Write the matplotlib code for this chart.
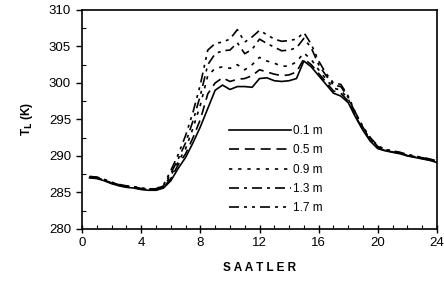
import matplotlib
matplotlib.use('Agg')
import matplotlib.pyplot as plt
from matplotlib.ticker import MultipleLocator

plt.rcParams['font.family'] = ['Liberation Sans', 'DejaVu Sans']

# saat (yarim saatlik)
saat = [0.5, 1.0, 1.5, 2.0, 2.5, 3.0, 3.5, 4.0, 4.5, 5.0, 5.5, 6.0,
        6.5, 7.0, 7.5, 8.0, 8.5, 9.0, 9.5, 10.0, 10.5, 11.0, 11.5, 12.0,
        12.5, 13.0, 13.5, 14.0, 14.5, 15.0, 15.5, 16.0, 16.5, 17.0, 17.5, 18.0,
        18.5, 19.0, 19.5, 20.0, 20.5, 21.0, 21.5, 22.0, 22.5, 23.0, 23.5, 24.0]

t_01 = [287.0, 286.9, 286.6, 286.2, 285.9, 285.7, 285.6, 285.4, 285.3, 285.3, 285.6, 286.6,
        288.3, 289.8, 291.8, 294.0, 296.5, 299.0, 299.7, 299.1, 299.5, 299.5, 299.4, 300.6,
        300.7, 300.3, 300.2, 300.3, 300.6, 303.0, 302.2, 301.0, 299.8, 298.6, 298.2, 297.3,
        295.3, 293.5, 292.0, 291.0, 290.7, 290.5, 290.3, 290.0, 289.8, 289.6, 289.4, 289.1]
t_05 = [287.05, 286.95, 286.65, 286.25, 285.95, 285.75, 285.65, 285.45, 285.35, 285.35, 285.7, 286.9,
        288.8, 290.3, 292.5, 295.0, 298.5, 300.0, 300.7, 300.2, 300.5, 300.6, 301.0, 301.8,
        301.5, 301.2, 301.0, 301.1, 301.5, 303.3, 302.5, 301.3, 300.1, 298.9, 298.6, 297.5,
        295.4, 293.6, 292.1, 291.1, 290.75, 290.55, 290.35, 290.05, 289.85, 289.65, 289.45, 289.15]
t_09 = [287.1, 287.0, 286.7, 286.3, 286.0, 285.8, 285.7, 285.5, 285.4, 285.4, 285.8, 287.3,
        289.2, 291.0, 293.8, 297.0, 301.0, 302.0, 302.2, 302.0, 302.5, 301.8, 302.5, 303.5,
        303.0, 302.7, 302.3, 302.3, 302.9, 304.1, 303.2, 301.8, 300.5, 299.3, 299.0, 297.8,
        295.6, 293.8, 292.3, 291.2, 290.8, 290.6, 290.4, 290.1, 289.9, 289.7, 289.5, 289.2]
t_13 = [287.15, 287.05, 286.75, 286.35, 286.05, 285.85, 285.75, 285.55, 285.45, 285.45, 285.9, 287.6,
        289.6, 291.8, 294.8, 298.3, 302.5, 304.0, 304.4, 304.5, 305.5, 304.0, 304.6, 306.0,
        305.4, 304.9, 304.4, 304.5, 304.8, 306.1, 304.8, 302.5, 301.0, 299.7, 299.5, 298.0,
        295.8, 293.9, 292.4, 291.3, 290.85, 290.65, 290.45, 290.15, 289.95, 289.75, 289.55, 289.25]
t_17 = [287.2, 287.1, 286.8, 286.4, 286.1, 285.9, 285.8, 285.6, 285.5, 285.5, 286.0, 288.0,
        290.2, 292.8, 296.0, 299.8, 304.5, 305.4, 305.6, 306.0, 307.3, 305.6, 306.3, 307.2,
        306.6, 306.0, 305.7, 305.8, 306.0, 306.9, 305.3, 303.0, 301.3, 300.0, 299.8, 298.2,
        295.9, 294.0, 292.5, 291.4, 290.9, 290.7, 290.5, 290.2, 290.0, 289.8, 289.6, 289.3]

etiketler = ['0.1 m', '0.5 m', '0.9 m', '1.3 m', '1.7 m']
seriler = [t_01, t_05, t_09, t_13, t_17]
cizgiler = ['-', (0, (6, 3.5)), (0, (2, 3.5)), (0, (6, 3, 1.8, 3)), (0, (6, 3, 1.8, 3, 1.8, 3))]

fig = plt.figure(figsize=(4.44, 2.83), dpi=100)
ax = fig.add_axes([0.185, 0.191, 0.799, 0.774])

for t, lab, ls in zip(seriler, etiketler, cizgiler):
    ax.plot(saat, t, color='black', linestyle=ls, linewidth=1.2, label=lab)

ax.set_xlim(0, 24)
ax.set_ylim(280, 310)
ax.xaxis.set_major_locator(MultipleLocator(4))
ax.xaxis.set_minor_locator(MultipleLocator(1))
ax.yaxis.set_major_locator(MultipleLocator(5))
ax.yaxis.set_minor_locator(MultipleLocator(2.5))
ax.tick_params(axis='x', which='major', direction='inout', length=6, width=1, labelsize=9.5, pad=3)
ax.tick_params(axis='x', which='minor', direction='in', length=3, width=0.8)
ax.tick_params(axis='y', which='major', direction='out', length=4, width=1, labelsize=9.5, pad=4)
ax.tick_params(axis='y', which='minor', direction='in', length=3, width=0.8)
for s in ax.spines.values():
    s.set_linewidth(1.2)

ax.set_xlabel('S A A T L E R', fontsize=8.5, fontweight='bold', labelpad=9)
ax.set_ylabel(r'T$_\mathbf{L}$ (K)', fontsize=8.5, fontweight='bold', labelpad=10)

leg = ax.legend(loc='lower left', bbox_to_anchor=(0.40, 0.045), frameon=False,
                fontsize=8.5, handlelength=5.3, handletextpad=0.15, labelspacing=0.62,
                borderaxespad=0)

fig.savefig('out.png', dpi=100)
